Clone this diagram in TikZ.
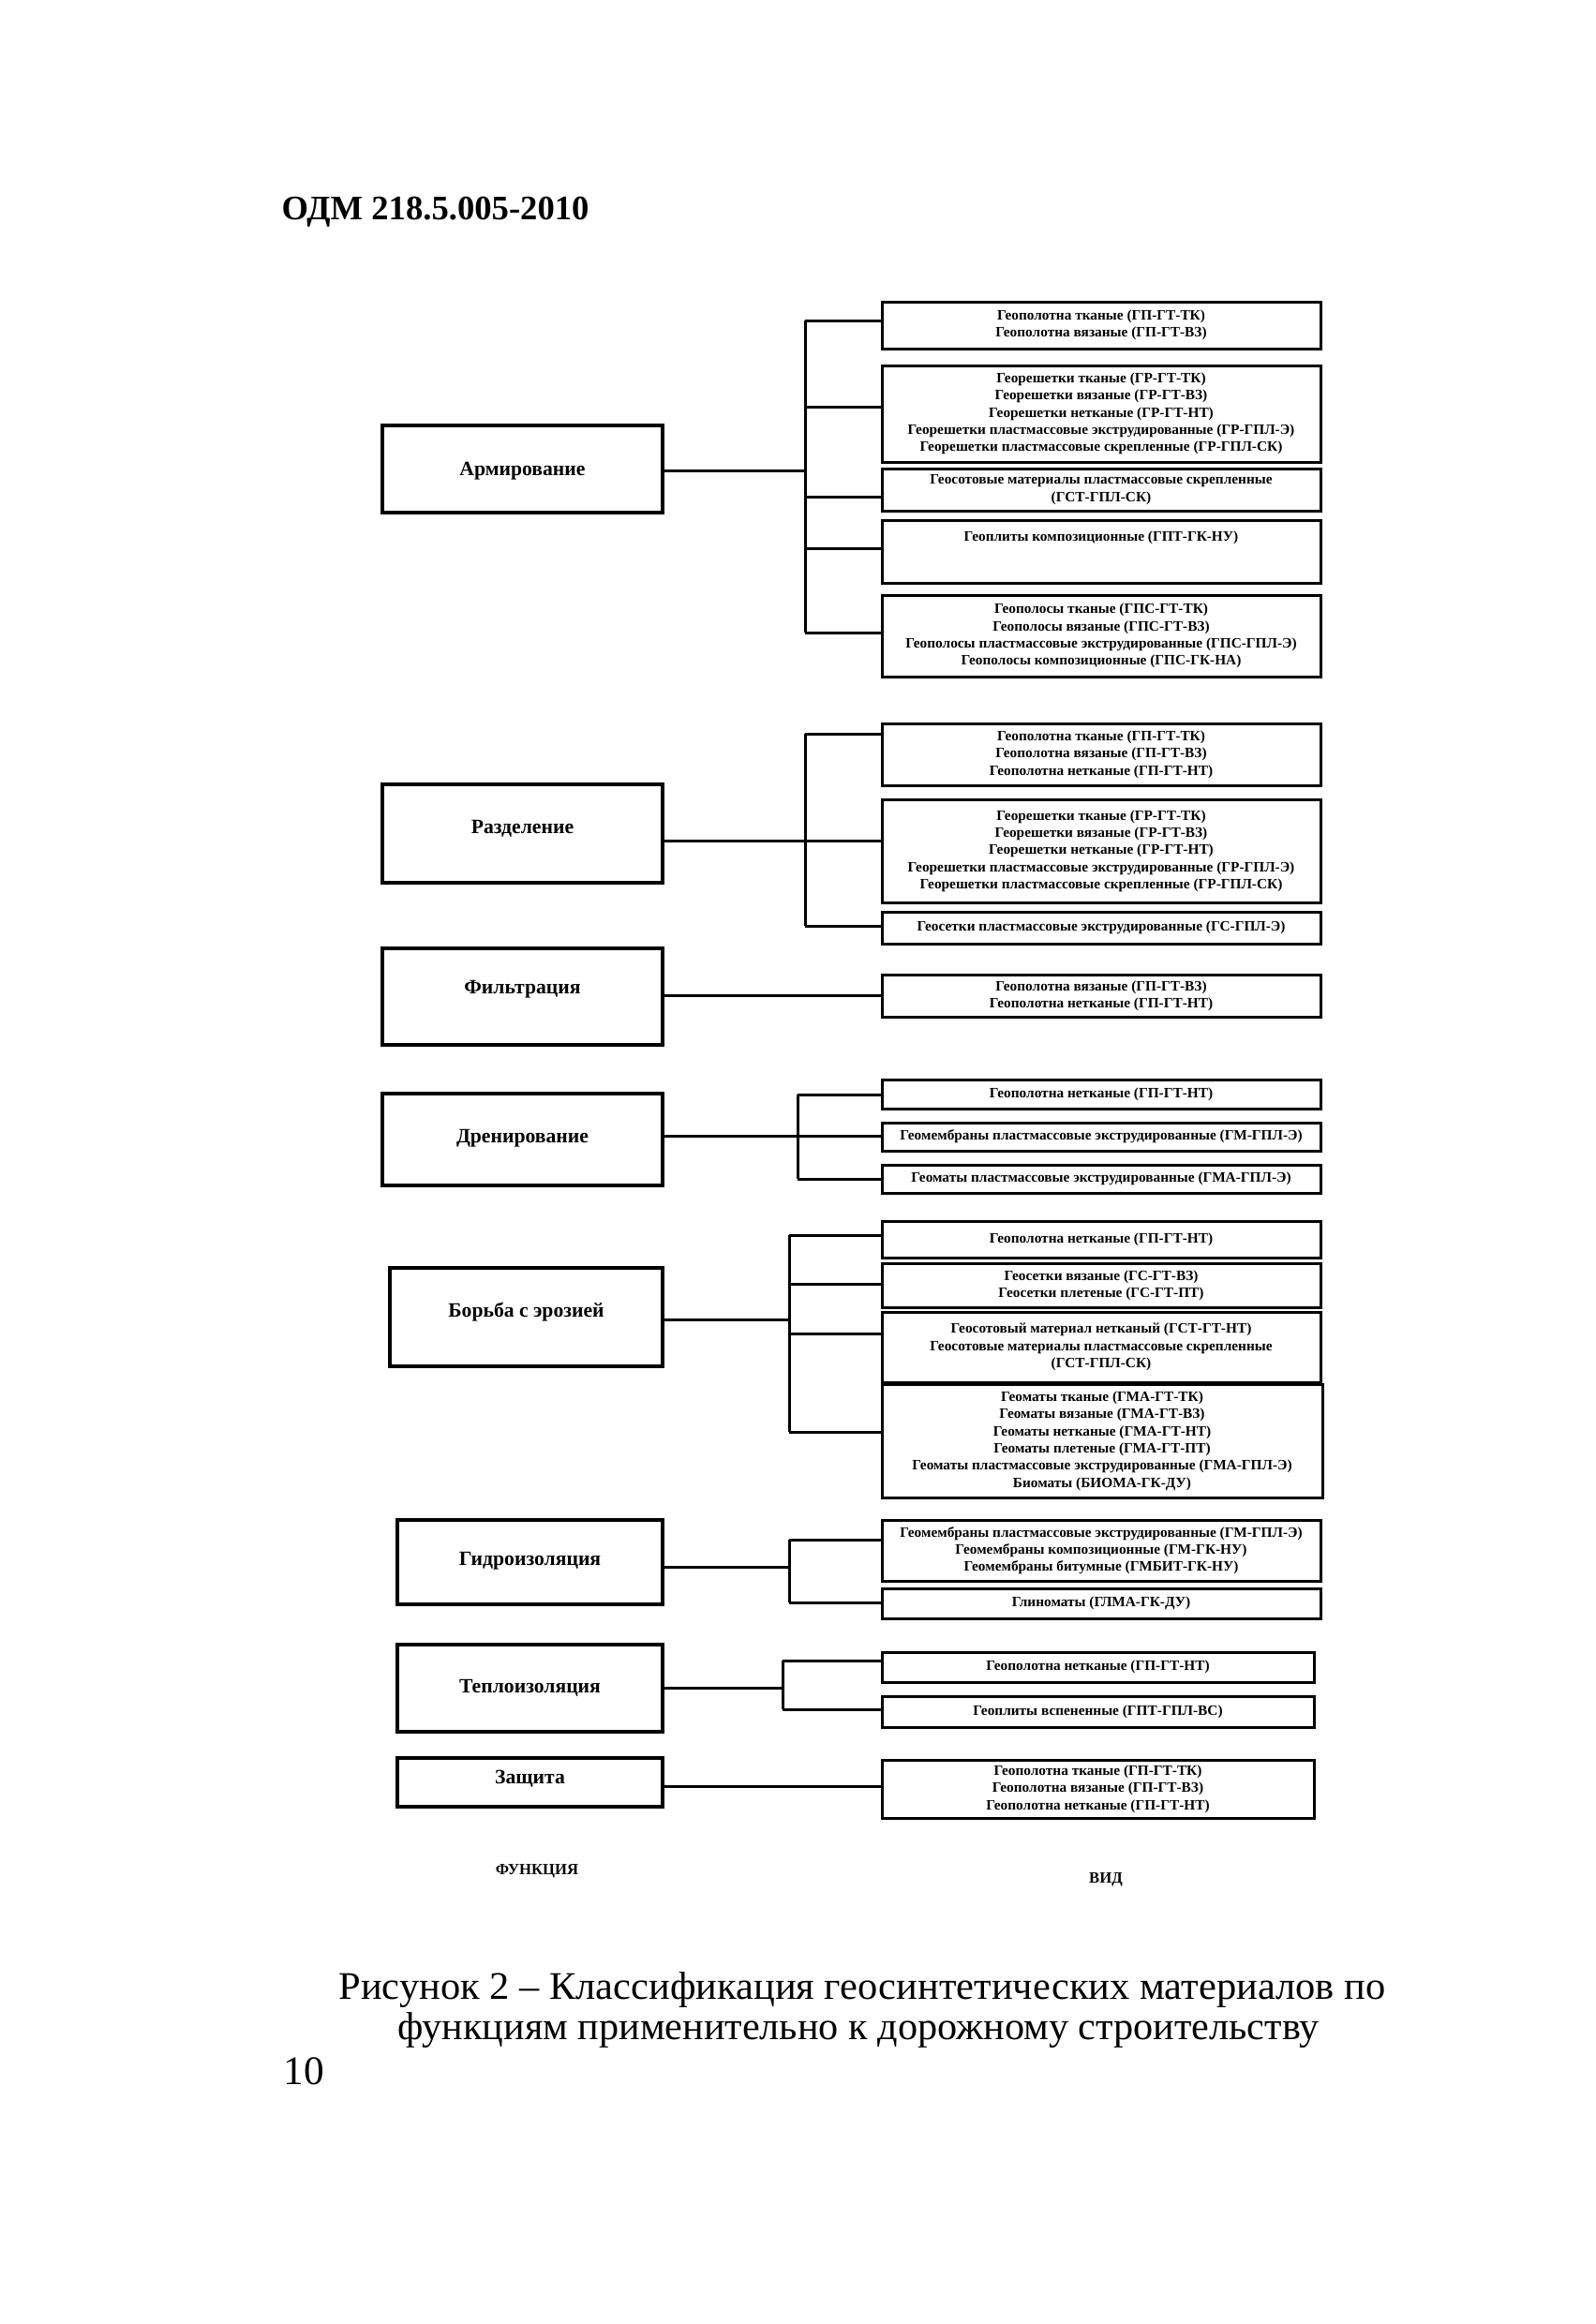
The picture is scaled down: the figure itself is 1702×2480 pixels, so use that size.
\documentclass[tikz,border=0pt]{standalone}
\usepackage{fontspec}
\setmainfont{Liberation Serif}
\usepackage{graphicx}
\tikzset{
  ln/.style={line width=0.9pt},
  rbx/.style={draw, line width=0.9pt, inner sep=0pt, align=center, font=\bfseries\fontsize{4.6}{5.5}\selectfont},
  lbx/.style={draw, line width=1pt, inner sep=0pt, font=\bfseries\fontsize{6.5}{7.5}\selectfont},
}
% right box: name, x1, y1, x2, y2, text  (pixel units)
\newcommand\rbox[6]{\node[rbx, minimum width={(#4-#2)*0.3pt}, minimum height={(#5-#3)*0.3pt}] (#1) at ({(#2+#4)/2},{(#3+#5)/2}) {#6};}
% left box: name, x1, y1, x2, y2, text centre y, text
\newcommand\lbox[7]{\pgfmathsetlengthmacro\rr{((#3+#5)/2-#6)*0.3pt-2.1pt}%
  \node[lbx, minimum width={(#4-#2)*0.3pt}, minimum height={(#5-#3)*0.3pt}] (#1) at ({(#2+#4)/2},{(#3+#5)/2}) {\raisebox{\rr}[0pt][0pt]{#7}};}
\begin{document}
\begin{tikzpicture}[x=0.3pt,y=-0.3pt]
\useasboundingbox (0,0) rectangle (1702,2480);
\fill[white] (0,0) rectangle (1702,2480);

\node[anchor=west, inner sep=0pt, font=\bfseries\fontsize{11}{13}\selectfont] (hdr) at (300,226) {ОДМ 218.5.005-2010};

% ---------- left boxes (functions)
\lbox{arm}{408}{454}{707}{547}{500}{Армирование}
\lbox{razd}{408}{837}{707}{942}{882}{Разделение}
\lbox{filt}{408}{1012}{707}{1115}{1053}{Фильтрация}
\lbox{dren}{408}{1167}{707}{1265}{1212}{Дренирование}
\lbox{bor}{416}{1353}{707}{1458}{1398}{Борьба с эрозией}
\lbox{gidro}{424}{1622}{707}{1712}{1663}{Гидроизоляция}
\lbox{teplo}{424}{1755}{707}{1848}{1799}{Теплоизоляция}
\lbox{zash}{424}{1876}{707}{1928}{1896}{Защита}

% ---------- right boxes (types)
\rbox{ra1}{941}{322}{1409}{372}{Геополотна тканые (ГП-ГТ-ТК)\\Геополотна вязаные (ГП-ГТ-ВЗ)}
\rbox{ra2}{941}{390}{1409}{493}{Георешетки тканые (ГР-ГТ-ТК)\\Георешетки вязаные (ГР-ГТ-ВЗ)\\Георешетки нетканые (ГР-ГТ-НТ)\\Георешетки пластмассовые экструдированные (ГР-ГПЛ-Э)\\Георешетки пластмассовые скрепленные (ГР-ГПЛ-СК)}
\rbox{ra3}{941}{500}{1409}{545}{Геосотовые материалы пластмассовые скрепленные\\(ГСТ-ГПЛ-СК)}
\rbox{ra4}{941}{555}{1409}{622}{\raisebox{3.3pt}[0pt][0pt]{Геоплиты композиционные (ГПТ-ГК-НУ)}}
\rbox{ra5}{941}{635}{1409}{722}{Геополосы тканые (ГПС-ГТ-ТК)\\Геополосы вязаные (ГПС-ГТ-ВЗ)\\Геополосы пластмассовые экструдированные (ГПС-ГПЛ-Э)\\Геополосы композиционные (ГПС-ГК-НА)}

\rbox{rr1}{941}{772}{1409}{838}{Геополотна тканые (ГП-ГТ-ТК)\\Геополотна вязаные (ГП-ГТ-ВЗ)\\Геополотна нетканые (ГП-ГТ-НТ)}
\rbox{rr2}{941}{853}{1409}{963}{Георешетки тканые (ГР-ГТ-ТК)\\Георешетки вязаные (ГР-ГТ-ВЗ)\\Георешетки нетканые (ГР-ГТ-НТ)\\Георешетки пластмассовые экструдированные (ГР-ГПЛ-Э)\\Георешетки пластмассовые скрепленные (ГР-ГПЛ-СК)}
\rbox{rr3}{941}{973}{1409}{1007}{Геосетки пластмассовые экструдированные (ГС-ГПЛ-Э)}

\rbox{rf1}{941}{1040}{1409}{1085}{Геополотна вязаные (ГП-ГТ-ВЗ)\\Геополотна нетканые (ГП-ГТ-НТ)}

\rbox{rd1}{941}{1152}{1409}{1183}{Геополотна нетканые (ГП-ГТ-НТ)}
\rbox{rd2}{941}{1198}{1409}{1228}{Геомембраны пластмассовые экструдированные (ГМ-ГПЛ-Э)}
\rbox{rd3}{941}{1243}{1409}{1273}{Геоматы пластмассовые экструдированные (ГМА-ГПЛ-Э)}

\rbox{re1}{941}{1303}{1409}{1342}{Геополотна нетканые (ГП-ГТ-НТ)}
\rbox{re2}{941}{1348}{1409}{1395}{Геосетки вязаные (ГС-ГТ-ВЗ)\\Геосетки плетеные (ГС-ГТ-ПТ)}
\rbox{re3}{941}{1400}{1409}{1475}{Геосотовый материал нетканый (ГСТ-ГТ-НТ)\\Геосотовые материалы пластмассовые скрепленные\\(ГСТ-ГПЛ-СК)}
\rbox{re4}{941}{1477}{1411}{1598}{Геоматы тканые (ГМА-ГТ-ТК)\\Геоматы вязаные (ГМА-ГТ-ВЗ)\\Геоматы нетканые (ГМА-ГТ-НТ)\\Геоматы плетеные (ГМА-ГТ-ПТ)\\Геоматы пластмассовые экструдированные (ГМА-ГПЛ-Э)\\Биоматы (БИОМА-ГК-ДУ)}

\rbox{rg1}{941}{1622}{1409}{1687}{Геомембраны пластмассовые экструдированные (ГМ-ГПЛ-Э)\\Геомембраны композиционные (ГМ-ГК-НУ)\\Геомембраны битумные (ГМБИТ-ГК-НУ)}
\rbox{rg2}{941}{1695}{1409}{1727}{Глиноматы (ГЛМА-ГК-ДУ)}

\rbox{rt1}{941}{1763}{1402}{1795}{Геополотна нетканые (ГП-ГТ-НТ)}
\rbox{rt2}{941}{1810}{1402}{1843}{Геоплиты вспененные (ГПТ-ГПЛ-ВС)}

\rbox{rz1}{941}{1878}{1402}{1940}{Геополотна тканые (ГП-ГТ-ТК)\\Геополотна вязаные (ГП-ГТ-ВЗ)\\Геополотна нетканые (ГП-ГТ-НТ)}

% ---------- connectors
% Армирование
\coordinate (ja0) at (859,502);
\coordinate (ja1) at (859,342);
\coordinate (ja2) at (859,434);
\coordinate (ja3) at (859,530);
\coordinate (ja4) at (859,585);
\coordinate (ja5) at (859,675);
\draw[ln] (arm.east |- ja0) -- (ja0);
\draw[ln] (ja1) -- (ja5);
\foreach \c/\b in {ja1/ra1,ja2/ra2,ja3/ra3,ja4/ra4,ja5/ra5} \draw[ln] (\c) -- (\c -| \b.west);
% Разделение
\coordinate (jr0) at (859,897);
\coordinate (jr1) at (859,783);
\coordinate (jr3) at (859,988);
\draw[ln] (razd.east |- jr0) -- (jr0 -| rr2.west);
\draw[ln] (jr1) -- (jr3);
\foreach \c/\b in {jr1/rr1,jr3/rr3} \draw[ln] (\c) -- (\c -| \b.west);
% Фильтрация
\coordinate (jf0) at (820,1062);
\draw[ln] (filt.east |- jf0) -- (jf0 -| rf1.west);
% Дренирование
\coordinate (jd0) at (851,1212);
\coordinate (jd1) at (851,1168);
\coordinate (jd3) at (851,1258);
\draw[ln] (dren.east |- jd0) -- (jd0 -| rd2.west);
\draw[ln] (jd1) -- (jd3);
\foreach \c/\b in {jd1/rd1,jd3/rd3} \draw[ln] (\c) -- (\c -| \b.west);
% Борьба с эрозией
\coordinate (je0) at (842,1408);
\coordinate (je1) at (842,1318);
\coordinate (je2) at (842,1370);
\coordinate (je3) at (842,1423);
\coordinate (je4) at (842,1528);
\draw[ln] (bor.east |- je0) -- (je0);
\draw[ln] (je1) -- (je4);
\foreach \c/\b in {je1/re1,je2/re2,je3/re3,je4/re4} \draw[ln] (\c) -- (\c -| \b.west);
% Гидроизоляция
\coordinate (jg0) at (842,1672);
\coordinate (jg1) at (842,1643);
\coordinate (jg2) at (842,1710);
\draw[ln] (gidro.east |- jg0) -- (jg0);
\draw[ln] (jg1) -- (jg2);
\foreach \c/\b in {jg1/rg1,jg2/rg2} \draw[ln] (\c) -- (\c -| \b.west);
% Теплоизоляция
\coordinate (jt0) at (835,1801);
\coordinate (jt1) at (835,1772);
\coordinate (jt2) at (835,1824);
\draw[ln] (teplo.east |- jt0) -- (jt0);
\draw[ln] (jt1) -- (jt2);
\foreach \c/\b in {jt1/rt1,jt2/rt2} \draw[ln] (\c) -- (\c -| \b.west);
% Защита
\coordinate (jz0) at (820,1906);
\draw[ln] (zash.east |- jz0) -- (jz0 -| rz1.west);

% ---------- bottom labels and caption
\node[font=\bfseries\fontsize{5}{6}\selectfont] (fn) at (573,1997) {ФУНКЦИЯ};
\node[font=\bfseries\fontsize{5}{6}\selectfont] (vid) at (1180,2006) {ВИД};

\node[inner sep=0pt, font=\fontsize{12.5}{15}\selectfont] (cap1) at (920,2124) {\resizebox{335pt}{\height}{Рисунок 2 – Классификация геосинтетических материалов по}};
\node[inner sep=0pt, font=\fontsize{12.5}{15}\selectfont] (cap2) at (916,2167) {\resizebox{295pt}{\height}{функциям применительно к дорожному строительству}};
\node[inner sep=0pt, font=\fontsize{13}{15}\selectfont] (pg) at (324,2210) {10};
\end{tikzpicture}
\end{document}
